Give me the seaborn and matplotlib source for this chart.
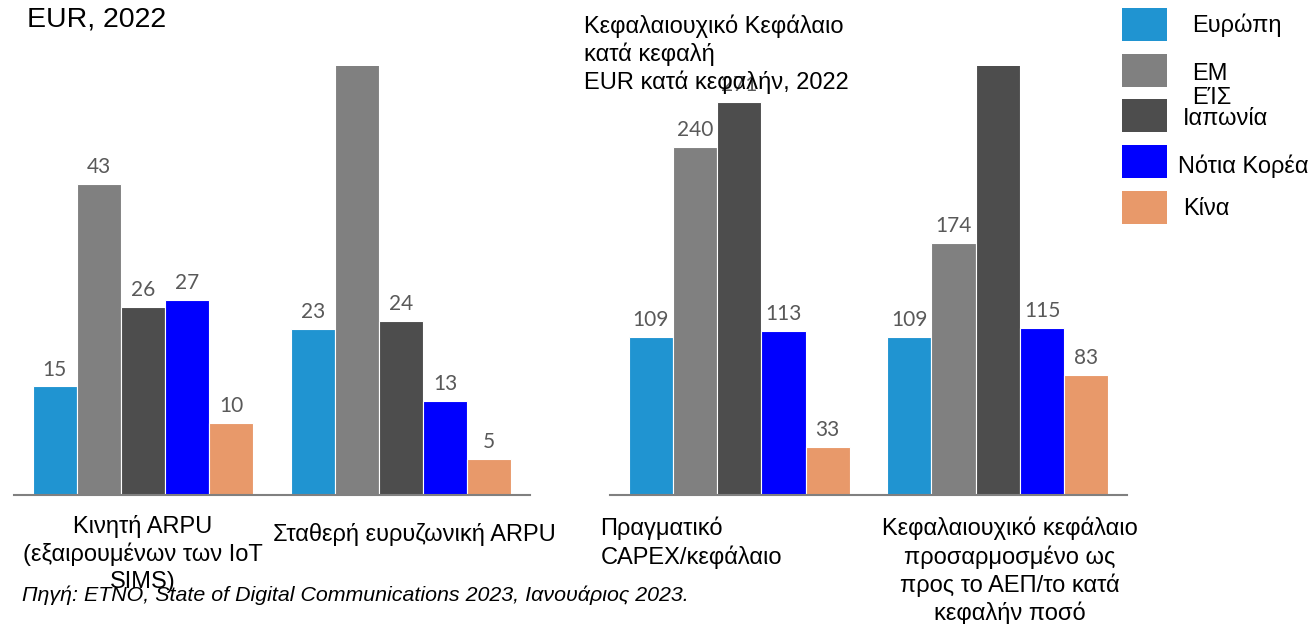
import matplotlib
matplotlib.use("Agg")
import matplotlib.pyplot as plt
import matplotlib.transforms as mtransforms
from matplotlib.patches import Rectangle
import seaborn as sns
import pandas as pd

regions = ["Ευρώπη", "ΕΜ ΕΊΣ", "Ιαπωνία", "Νότια Κορέα", "Κίνα"]
legend_labels = ["Ευρώπη", "ΕΜ\nΕΊΣ", "Ιαπωνία", "Νότια Κορέα", "Κίνα"]
colors = ["#2094D1", "#808080", "#4D4D4D", "#0000FF", "#E8996A"]

left_cats = ["Κινητή ARPU\n(εξαιρουμένων των IoT\nSIMS)", "Σταθερή ευρυζωνική ARPU"]
left_vals = {
    "Ευρώπη": [15, 23],
    "ΕΜ ΕΊΣ": [43, 60],
    "Ιαπωνία": [26, 24],
    "Νότια Κορέα": [27, 13],
    "Κίνα": [10, 5],
}

right_cats = ["Πραγματικό\nCAPEX/κεφάλαιο",
              "Κεφαλαιουχικό κεφάλαιο\nπροσαρμοσμένο ως\nπρος το ΑΕΠ/το κατά\nκεφαλήν ποσό"]
right_vals = {
    "Ευρώπη": [109, 109],
    "ΕΜ ΕΊΣ": [240, 174],
    "Ιαπωνία": [271, 300],
    "Νότια Κορέα": [113, 115],
    "Κίνα": [33, 83],
}

left_title = "EUR, 2022"
right_title = "Κεφαλαιουχικό Κεφάλαιο\nκατά κεφαλή\nEUR κατά κεφαλήν, 2022"
source = "Πηγή: ETNO, State of Digital Communications 2023, Ιανουάριος 2023."

sns.set_theme(style="white")
plt.rcParams["font.family"] = ["Liberation Sans", "DejaVu Sans"]
plt.rcParams["text.color"] = "black"


def to_frame(cats, vals):
    rows = []
    for r in regions:
        for c, v in zip(cats, vals[r]):
            rows.append({"cat": c, "region": r, "value": v})
    return pd.DataFrame(rows)


def draw_panel(ax, cats, vals, ymax):
    df = to_frame(cats, vals)
    sns.barplot(data=df, x="cat", y="value", hue="region", order=cats,
                hue_order=regions, palette=colors, saturation=1, width=0.856,
                edgecolor="white", linewidth=0.8, legend=False, ax=ax)
    for cont in ax.containers:
        ax.bar_label(cont, padding=5, fontsize=15, color="#595959",
                     family=["Lato", "DejaVu Sans"], clip_on=True)
    ax.set_ylim(0, ymax)
    ax.set_xlim(-0.5, 1.5)
    ax.set_xlabel("")
    ax.set_ylabel("")
    ax.set_xticks([])
    ax.set_yticks([])
    sns.despine(ax=ax, left=True)
    ax.spines["bottom"].set_color("#808080")
    ax.spines["bottom"].set_linewidth(1.5)


fig = plt.figure(figsize=(13.16, 6.24), dpi=100)
ax1 = fig.add_axes([14 / 1316, 129 / 624, 516 / 1316, 429 / 624])
ax2 = fig.add_axes([610 / 1316, 129 / 624, 517 / 1316, 429 / 624])

draw_panel(ax1, left_cats, left_vals, 59.3)
draw_panel(ax2, right_cats, right_vals, 296)

# category captions under the groups
tr1 = mtransforms.blended_transform_factory(ax1.transData, ax1.transAxes)
tr2 = mtransforms.blended_transform_factory(ax2.transData, ax2.transAxes)
ax1.text(0, -0.047, left_cats[0], transform=tr1, ha="center", va="top",
         fontsize=17, linespacing=1.25, multialignment="center")
ax1.text(1.05, -0.065, left_cats[1], transform=tr1, ha="center", va="top",
         fontsize=17)
ax2.text(-0.537, -0.051, right_cats[0], transform=tr2, ha="left", va="top",
         fontsize=17, linespacing=1.25)
ax2.text(1.045, -0.051, right_cats[1], transform=tr2, ha="center", va="top",
         fontsize=17, linespacing=1.25, multialignment="center")

fig.text(27 / 1316, 1 - 6 / 624, left_title, ha="left", va="top", fontsize=20.5)
fig.text(584 / 1316, 1 - 15 / 624, right_title, ha="left", va="top",
         fontsize=17, linespacing=1.23)
fig.text(22 / 1316, 1 - 595 / 624, source, ha="left", va="center",
         fontsize=15.4, style="italic")

# legend drawn as swatches in the top-right corner
swatch_tops = [8, 54, 99, 145, 191]
text_x = [1192, 1192, 1183, 1178, 1183]
text_y = [25, 86, 119, 166, 209]
for i, lab in enumerate(legend_labels):
    fig.patches.append(Rectangle((1122 / 1316, 1 - (swatch_tops[i] + 33) / 624),
                                 45 / 1316, 33 / 624, facecolor=colors[i],
                                 edgecolor="none", transform=fig.transFigure))
    fig.text(text_x[i] / 1316, 1 - text_y[i] / 624, lab, ha="left",
             va="center", fontsize=17, linespacing=1.12)

fig.savefig("out.png", dpi=100)
